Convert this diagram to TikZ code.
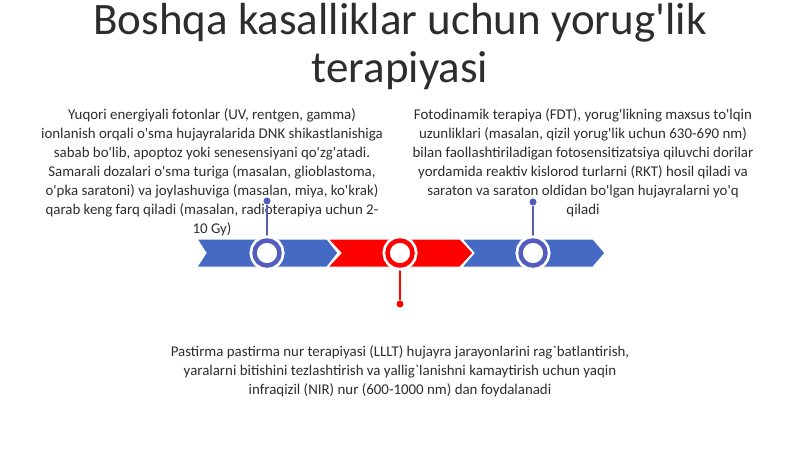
\documentclass[tikz,border=0pt]{standalone}
\usepackage{fontspec}
\setmainfont{Carlito}[Ligatures=TeXOff]
\usepackage{xcolor}
\usepackage{tikz}
\definecolor{bandblue}{RGB}{68,106,196}
\definecolor{ringblue}{RGB}{84,92,190}
\definecolor{bandred}{RGB}{255,0,0}
\definecolor{textgray}{RGB}{45,45,45}
\tikzset{
    titletext/.style={text=textgray, align=center, font=\fontsize{45}{48}\selectfont, inner sep=0pt},
    bodytext/.style={text=textgray, align=center, font=\fontsize{14.9}{19}\selectfont, inner sep=0pt},
    ring/.style={circle, draw=#1, line width=4.5pt, fill=white, minimum size=25pt, inner sep=0pt, preaction={draw=white, line width=10pt}},
    stemdot/.style={circle, fill=#1, minimum size=7pt, inner sep=0pt},
    stem/.style={#1, line width=1.5pt}
}
\begin{document}
\begin{tikzpicture}[x=1pt,y=-1pt]
    \useasboundingbox (0,0) rectangle (800,449);
    \node[titletext] (title) at (400,47) {Boshqa kasalliklar uchun yorug'lik\\terapiyasi};
    % chevron band
    \fill[bandblue, draw=white, line width=1pt] (197,239) -- (327,239) -- (338,253) -- (327,267) -- (197,267) -- (206,253) -- cycle;
    \fill[bandred, draw=white, line width=1pt] (328,239) -- (460,239) -- (473,253) -- (460,267) -- (328,267) -- (341,253) -- cycle;
    \fill[bandblue, draw=white, line width=1pt] (462,239) -- (593,239) -- (605,253) -- (593,267) -- (462,267) -- (474,253) -- cycle;
    % texts
    \node[bodytext] (radio) at (212,172) {Yuqori energiyali fotonlar (UV, rentgen, gamma)\\ionlanish orqali o'sma hujayralarida DNK shikastlanishiga\\sabab bo'lib, apoptoz yoki senesensiyani qo'zg'atadi.\\Samarali dozalari o'sma turiga (masalan, glioblastoma,\\o'pka saratoni) va joylashuviga (masalan, miya, ko'krak)\\qarab keng farq qiladi (masalan, radioterapiya uchun 2-\\10 Gy)};
    \node[bodytext] (fdt) at (583,163) {Fotodinamik terapiya (FDT), yorug'likning maxsus to'lqin\\uzunliklari (masalan, qizil yorug'lik uchun 630-690 nm)\\bilan faollashtiriladigan fotosensitizatsiya qiluvchi dorilar\\yordamida reaktiv kislorod turlarni (RKT) hosil qiladi va\\saraton va saraton oldidan bo'lgan hujayralarni yo'q\\qiladi};
    \node[bodytext] (lllt) at (400,371) {Pastirma pastirma nur terapiyasi (LLLT) hujayra jarayonlarini rag`batlantirish,\\yaralarni bitishini tezlashtirish va yallig`lanishni kamaytirish uchun yaqin\\infraqizil (NIR) nur (600-1000 nm) dan foydalanadi};
    % stems and rings
    \node[stemdot=ringblue] (dot1) at (267,201) {};
    \node[stemdot=bandred] (dot2) at (400,304) {};
    \node[stemdot=ringblue] (dot3) at (533,202) {};
    \draw[stem=ringblue] (dot1) -- (267,253);
    \draw[stem=bandred] (dot2) -- (400,253);
    \draw[stem=ringblue] (dot3) -- (533,253);
    \node[ring=ringblue] (ring1) at (267,253) {};
    \node[ring=bandred] (ring2) at (400,253) {};
    \node[ring=ringblue] (ring3) at (533,253) {};
\end{tikzpicture}
\end{document}
